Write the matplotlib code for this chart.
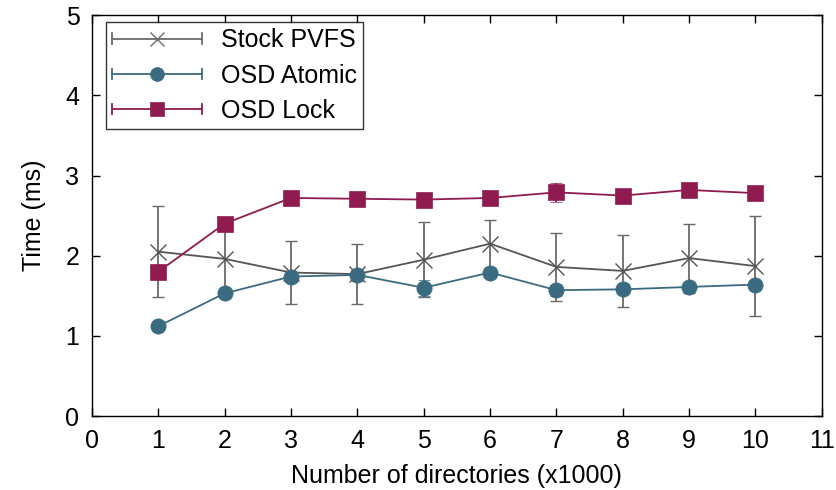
import matplotlib
matplotlib.use("Agg")
import matplotlib.pyplot as plt
from matplotlib.legend_handler import HandlerBase
from matplotlib.lines import Line2D

plt.rcParams['font.family'] = ['Liberation Sans', 'DejaVu Sans']

dirs = [1, 2, 3, 4, 5, 6, 7, 8, 9, 10]

pvfs_mean = [2.05, 1.96, 1.79, 1.77, 1.95, 2.15, 1.86, 1.81, 1.97, 1.87]
pvfs_err = [0.57, 0.45, 0.39, 0.37, 0.47, 0.30, 0.42, 0.45, 0.43, 0.62]

atomic_mean = [1.12, 1.53, 1.74, 1.76, 1.60, 1.79, 1.57, 1.58, 1.61, 1.64]
atomic_err = [0.04, 0.03, 0.07, 0.07, 0.10, 0.06, 0.07, 0.04, 0.03, 0.04]

lock_mean = [1.80, 2.40, 2.72, 2.71, 2.70, 2.72, 2.79, 2.75, 2.82, 2.78]
lock_err = [0.04, 0.03, 0.06, 0.04, 0.05, 0.07, 0.12, 0.05, 0.03, 0.03]

labels = ["Stock PVFS", "OSD Atomic", "OSD Lock"]
x_ticks = list(range(0, 12))
y_ticks = list(range(0, 6))

c_pvfs = "#555555"
c_pvfs_err = "#6a6a6a"
c_atomic = "#3b6b80"
c_lock = "#901b50"

fig = plt.figure(figsize=(8.36, 4.9), dpi=100)
ax = fig.add_axes([0.110, 0.151, 0.873, 0.818])

series = [
    (pvfs_mean, pvfs_err, c_pvfs, c_pvfs_err, "x", 11),
    (atomic_mean, atomic_err, c_atomic, c_atomic, "o", 11),
    (lock_mean, lock_err, c_lock, c_lock, "s", 11),
]

for mean, err, col, ecol, mk, ms in series:
    ax.errorbar(dirs, mean, yerr=err, color=col, ecolor=ecol, elinewidth=1.3,
                capsize=4, capthick=1.3, marker=mk, markersize=ms,
                markeredgewidth=1.0 if mk == "x" else 0.5, markeredgecolor=col,
                markerfacecolor=col, linewidth=1.3)


class ErrLegendHandler(HandlerBase):
    def __init__(self, color, marker, ms):
        super().__init__()
        self.color = color
        self.marker = marker
        self.ms = ms

    def create_artists(self, legend, orig_handle, xdescent, ydescent, width,
                       height, fontsize, trans):
        yc = height / 2 - ydescent
        x0 = -xdescent
        x1 = x0 + width
        cap = height * 0.3
        arts = [
            Line2D([x0, x1], [yc, yc], color=self.color, lw=1.3),
            Line2D([x0, x0], [yc - cap, yc + cap], color=self.color, lw=1.3),
            Line2D([x1, x1], [yc - cap, yc + cap], color=self.color, lw=1.3),
            Line2D([(x0 + x1) / 2], [yc], marker=self.marker, color=self.color,
                   markersize=self.ms, markeredgewidth=1.0 if self.marker == "x" else 0.5,
                   markerfacecolor=self.color, markeredgecolor=self.color, linestyle="none"),
        ]
        for a in arts:
            a.set_transform(trans)
        return arts


handles = [Line2D([], [], color=c) for c in (c_pvfs_err, c_atomic, c_lock)]
handler_map = {
    handles[0]: ErrLegendHandler(c_pvfs_err, "x", 10),
    handles[1]: ErrLegendHandler(c_atomic, "o", 10),
    handles[2]: ErrLegendHandler(c_lock, "s", 10),
}
leg = ax.legend(handles, labels, handler_map=handler_map, loc="upper left",
                bbox_to_anchor=(0.019, 0.983), fontsize=18, frameon=True,
                fancybox=False, edgecolor="black", handlelength=3.6,
                handletextpad=0.75, borderpad=0.25, labelspacing=0.45,
                borderaxespad=0)
leg.get_frame().set_linewidth(1.0)

ax.set_xlim(0, 11)
ax.set_ylim(0, 5)
ax.set_xticks(x_ticks)
ax.set_yticks(y_ticks)
ax.tick_params(direction="in", length=6, width=1, top=True, right=True,
               labelsize=18, pad=9)
for s in ax.spines.values():
    s.set_linewidth(1.0)

ax.set_xlabel("Number of directories (x1000)", fontsize=18, labelpad=8)
ax.set_ylabel("Time (ms)", fontsize=18, labelpad=14)

fig.savefig("out.png", dpi=100)
